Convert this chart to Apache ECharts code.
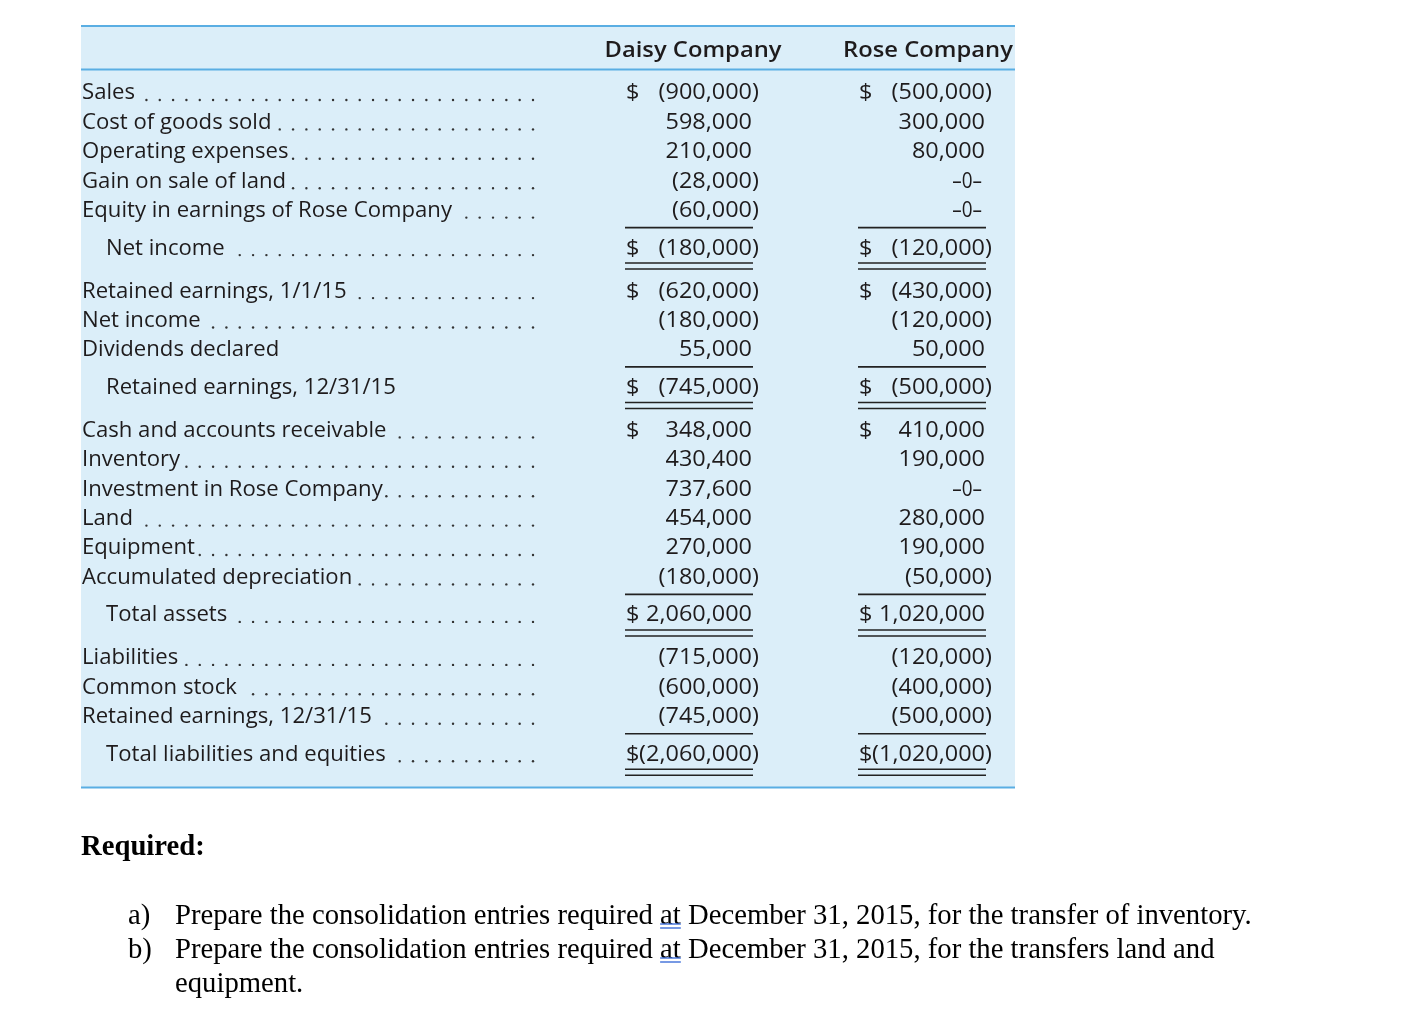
<!DOCTYPE html>
<html>
<head>
<meta charset="utf-8">
<script src="https://cdn.jsdelivr.net/npm/echarts@6/dist/echarts.min.js"></script>
<style>
html, body { margin: 0; padding: 0; background: #fff; }
#chart { width: 1409px; height: 1016px; }
</style>
</head>
<body>
<div id="chart"></div>
<script>
let labels = ['Sales', 'Cost of goods sold', 'Operating expenses', 'Gain on sale of land', 'Equity in earnings of Rose Company', 'Net income',
  'Retained earnings, 1/1/15', 'Net income', 'Dividends declared', 'Retained earnings, 12/31/15',
  'Cash and accounts receivable', 'Inventory', 'Investment in Rose Company', 'Land', 'Equipment', 'Accumulated depreciation', 'Total assets',
  'Liabilities', 'Common stock', 'Retained earnings, 12/31/15', 'Total liabilities and equities'];
let daisy = [-900000, 598000, 210000, -28000, -60000, -180000,
  -620000, -180000, 55000, -745000,
  348000, 430400, 737600, 454000, 270000, -180000, 2060000,
  -715000, -600000, -745000, -2060000];
let rose = [-500000, 300000, 80000, 0, 0, -120000,
  -430000, -120000, 50000, -500000,
  410000, 190000, 0, 280000, 190000, -50000, 1020000,
  -120000, -400000, -500000, -1020000];
let totalRows = [5, 9, 16, 20];
let dollarRows = [0, 5, 6, 9, 10, 16, 20];
let noDotRows = [8, 9];
let companies = ['Daisy Company', 'Rose Company'];
let requiredTitle = 'Required:';
let taskMarks = ['a)', 'b)', ''];
let taskLines = ['Prepare the consolidation entries required at December 31, 2015, for the transfer of inventory.',
  'Prepare the consolidation entries required at December 31, 2015, for the transfers land and',
  'equipment.'];

// layout
let FONT = '"Open Sans"';
let FS = 21;
let SERIF = '"Liberation Serif", "Times New Roman", serif';
let SFS = 28.7;
let INK = '#1e1b1c';
let BLUE = '#5aaee3';
let colDollar = [626, 859];
let colRight = [752, 985];
let colHead = [693, 928];

let cv = document.createElement('canvas').getContext('2d');
function measure(text, font) {
  cv.font = font;
  return cv.measureText(text).width;
}
let SX = 370 / measure('Equity in earnings of Rose Company', FS + 'px ' + FONT);
let NSX = 86.5 / measure('598,000', FS + 'px ' + FONT);
let HSX = 177 / measure('Daisy Company', '600 ' + FS + 'px ' + FONT);

function txt(text, x, y, opt) {
  opt = opt || {};
  return {
    type: 'text', x: x, y: y, scaleX: opt.sx || 1,
    style: {
      text: text, fill: opt.fill || INK, align: opt.align || 'left', verticalAlign: 'middle',
      fontSize: opt.size || FS, fontFamily: opt.family || FONT, fontWeight: opt.weight || 'normal'
    }
  };
}
function hline(x1, x2, y, color, w) {
  return { type: 'line', shape: { x1: x1, y1: y, x2: x2, y2: y }, style: { stroke: color, lineWidth: w } };
}

let rowY = [];
let y = 92;
labels.forEach((l, i) => {
  if (i > 0) {
    if (totalRows.indexOf(i) >= 0) y += 37.5;
    else if (totalRows.indexOf(i - 1) >= 0) y += 43;
    else y += 29.4;
  }
  rowY.push(y);
});

let els = [];
els.push({ type: 'rect', shape: { x: 81, y: 26, width: 934, height: 762 }, style: { fill: '#dbeef9' } });
els.push(hline(81, 1015, 26, BLUE, 2));
els.push(hline(81, 1015, 69.5, BLUE, 2));
els.push(hline(81, 1015, 787.5, BLUE, 2));

companies.forEach((c, j) => {
  els.push(txt(c, colHead[j], 51, { align: 'center', weight: 600, sx: HSX }));
});

labels.forEach((l, i) => {
  let ry = rowY[i];
  let ty = ry + 1.5;
  let isTotal = totalRows.indexOf(i) >= 0;
  let lx = isTotal ? 106 : 82;
  els.push(txt(l, lx, ty, { sx: SX }));
  if (noDotRows.indexOf(i) < 0) {
    let end = lx + measure(l, FS + 'px ' + FONT) * SX + 3;
    for (let dx = 533; dx > end; dx -= 13.33) {
      els.push({ type: 'circle', shape: { cx: dx, cy: ry + 8, r: 1.2 }, style: { fill: '#333' } });
    }
  }
  [daisy, rose].forEach((vals, j) => {
    let v = vals[i];
    if (dollarRows.indexOf(i) >= 0) els.push(txt('$', colDollar[j], ty, { sx: NSX }));
    if (v === 0) {
      els.push(txt('\u20130\u2013', colRight[j] - 3, ty, { align: 'right', sx: 0.9 }));
    } else if (v < 0) {
      els.push(txt('(' + Math.abs(v).toLocaleString('en-US'), colRight[j], ty, { align: 'right', sx: NSX }));
      els.push(txt(')', colRight[j], ty, { sx: NSX }));
    } else {
      els.push(txt(v.toLocaleString('en-US'), colRight[j], ty, { align: 'right', sx: NSX }));
    }
    if (isTotal) {
      let x1 = colDollar[j] - 1, x2 = colRight[j] + 1;
      els.push(hline(x1, x2, ry - 19.5, '#222', 1.6));
      els.push(hline(x1, x2, ry + 16, '#222', 1.5));
      els.push(hline(x1, x2, ry + 22, '#222', 1.5));
    }
  });
});

els.push(txt(requiredTitle, 81, 848, { family: SERIF, size: SFS, weight: 'bold', fill: '#000' }));
taskLines.forEach((t, i) => {
  let ty = 916 + i * 34;
  if (taskMarks[i]) els.push(txt(taskMarks[i], 128, ty, { family: SERIF, size: SFS, fill: '#000' }));
  els.push(txt(t, 175, ty, { family: SERIF, size: SFS, fill: '#000' }));
  let k = t.indexOf(' at ');
  if (k >= 0) {
    let f = SFS + 'px ' + SERIF;
    let ax = 175 + measure(t.slice(0, k + 1), f);
    let aw = measure('at', f);
    els.push(hline(ax, ax + aw, ty + 8, '#3d6ed8', 1.4));
    els.push(hline(ax, ax + aw, ty + 12, '#3d6ed8', 1.4));
  }
});

let myChart = echarts.init(document.getElementById('chart'));
myChart.setOption({ animation: false, graphic: { elements: els } });
</script>
</body>
</html>
